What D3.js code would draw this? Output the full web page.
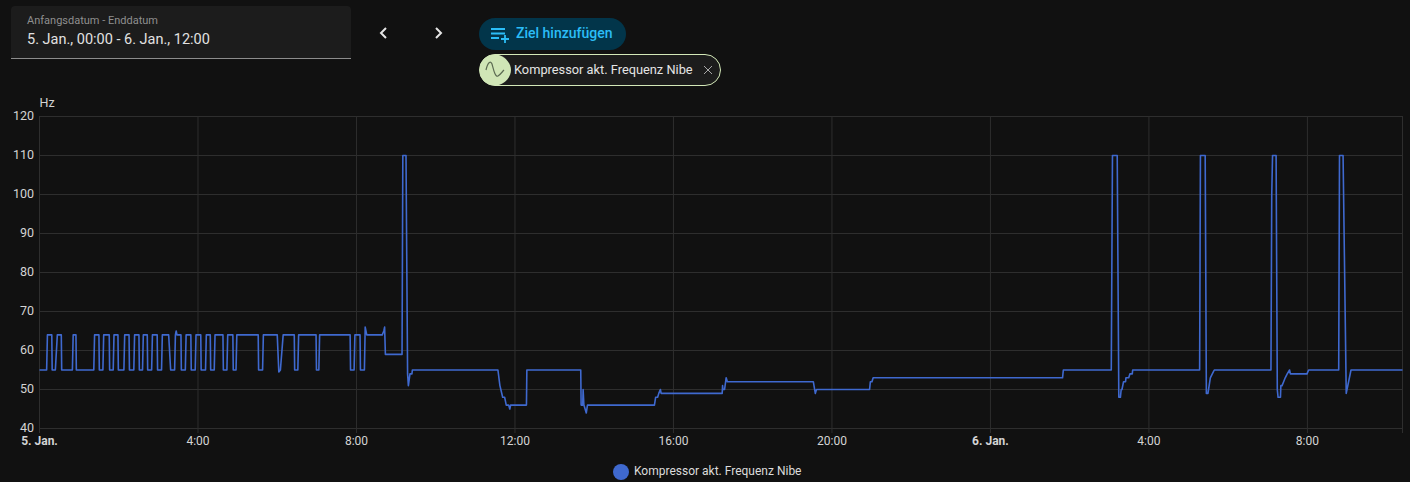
<!DOCTYPE html>
<html lang="de">
<head>
<meta charset="utf-8">
<script src="https://cdn.jsdelivr.net/npm/d3@7"></script>
<style>
html,body{margin:0;padding:0;background:#111111;}
svg{display:block;font-family:Roboto,sans-serif;}
</style>
</head>
<body>
<svg id="c" width="1410" height="482"></svg>
<script>
// Readings: [hours since 5 Jan 00:00, Hz]
const cyclingPhase = [
[0,55],[0.18,55],[0.20,64],[0.31,64],[0.32,55],[0.40,55],[0.45,64],[0.55,64],[0.56,55],
[0.83,55],[0.85,64],[0.92,64],[0.93,55],[1.37,55],[1.39,64],[1.50,64],[1.51,55],
[1.60,55],[1.62,64],[1.76,64],[1.77,55],[1.86,55],[1.88,64],[1.98,64],[1.99,55],
[2.13,55],[2.15,64],[2.26,64],[2.27,55],[2.38,55],[2.40,64],[2.51,64],[2.52,55],
[2.60,55],[2.62,64],[2.72,64],[2.73,55],[2.83,55],[2.85,64],[2.97,64],[2.98,55],
[3.08,55],[3.10,64],[3.26,64],[3.31,55],[3.41,55],[3.43,64],[3.45,65],[3.47,64],[3.57,64],[3.58,55],
[3.68,55],[3.70,64],[3.82,64],[3.83,55],[3.93,55],[3.95,64],[4.07,64],[4.08,55],
[4.19,55],[4.21,64],[4.31,64],[4.32,55],[4.41,55],[4.43,64],[4.63,64],[4.64,55],
[4.73,55],[4.75,64],[4.88,64],[4.89,55],[4.96,55],[4.98,64],[5.52,64],[5.53,55],
[5.63,55],[5.65,64],[6.00,64],[6.04,54.5],[6.08,55],[6.15,64],[6.43,64],[6.44,55],
[6.52,55],[6.54,64],[6.98,64],[6.99,55],[7.05,55],[7.07,64],[7.84,64],[7.85,55],
[7.94,55],[7.96,64],[8.09,64],[8.10,55],[8.20,55],[8.22,66],[8.26,64],[8.65,64],[8.69,65],[8.71,66],[8.73,59]
];
const firstBurst = [
[9.15,59],[9.17,110],[9.25,110],[9.29,54],[9.31,51],[9.35,54],[9.40,54],[9.41,55]
];
const middayPhase = [
[11.57,55],[11.62,51],[11.69,48],[11.74,48],[11.78,46],[11.84,46],[11.87,45],[11.89,46],
[12.29,46],[12.30,55],[13.66,55],[13.67,46],[13.71,46],[13.72,50],[13.74,46],[13.80,44],[13.83,46],
[15.52,46],[15.55,48],[15.60,48],[15.63,49],[15.67,50],[15.69,49],
[17.23,49],[17.24,51],[17.25,50],[17.29,50],[17.33,53],[17.36,52],
[19.53,52],[19.58,49],[19.61,50],[20.95,50],[20.97,52],[21.01,52],[21.04,53],
[25.82,53],[25.84,55]
];
const lateBursts = [
[27.05,55],[27.08,110],[27.20,110],[27.24,48],[27.28,48],[27.30,50],[27.32,50],[27.36,52],
[27.41,52],[27.42,53],[27.49,53],[27.52,54],[27.58,54],[27.59,55],
[29.28,55],[29.30,110],[29.42,110],[29.45,49],[29.49,49],[29.55,53],[29.60,54],[29.65,55],
[31.08,55],[31.10,100],[31.12,110],[31.21,110],[31.24,50],[31.26,48],[31.32,48],[31.33,51],
[31.36,51],[31.40,52],[31.44,53],[31.49,54],[31.55,55],[31.57,54],[31.99,54],[32.03,55],
[32.79,55],[32.81,110],[32.90,110],[32.98,49],[33.10,55],[34.40,55]
];
const yTicks = [40,50,60,70,80,90,100,110,120];
const xTicks = [0,4,8,12,16,20,24,28,32];
const xTickLabels = ["5. Jan.","4:00","8:00","12:00","16:00","20:00","6. Jan.","4:00","8:00"];
const boldTicks = ["5. Jan.","6. Jan."];
const seriesName = "Kompressor akt. Frequenz Nibe";
const xMax = 34.4;

const readings = [...cyclingPhase, ...firstBurst, ...middayPhase, ...lateBursts];

const svg = d3.select("#c");
const x = d3.scaleLinear().domain([0,xMax]).range([39,1402]);
const y = d3.scaleLinear().domain([40,120]).range([428,116]);
const grid = "#2e2e2e", txt = "#d4d4d4", blue = "#3f69cf";

// Date range field
svg.append("path").attr("d","M11 59V10a4 4 0 0 1 4-4H347a4 4 0 0 1 4 4V59Z").attr("fill","#1c1c1c");
svg.append("rect").attr("x",11).attr("y",58).attr("width",340).attr("height",1).attr("fill","#8c8c8c");
svg.append("text").attr("x",27).attr("y",24).attr("font-size",11).attr("fill","#8f8f8f").text("Anfangsdatum - Enddatum");
svg.append("text").attr("x",27).attr("y",44).attr("font-size",14.5).attr("fill","#e1e1e1").text("5. Jan., 00:00 - 6. Jan., 12:00");

// Chevrons
svg.append("path").attr("d","M386 28l-5 5 5 5").attr("fill","none").attr("stroke","#e6e6e6").attr("stroke-width",2);
svg.append("path").attr("d","M436 28l5 5-5 5").attr("fill","none").attr("stroke","#e6e6e6").attr("stroke-width",2);

// Add target button
svg.append("rect").attr("x",479).attr("y",18).attr("width",147).attr("height",32).attr("rx",16).attr("fill","#02354a");
svg.append("path").attr("d","M491 29h14M491 33.5h14M491 38h8M505 35v8M501 39h8").attr("fill","none").attr("stroke","#2bbdf7").attr("stroke-width",1.8);
svg.append("text").attr("x",516).attr("y",38).attr("font-size",14).attr("font-weight",500).attr("fill","#2bbdf7").text("Ziel hinzufügen");

// Chip
svg.append("rect").attr("x",479.5).attr("y",54.5).attr("width",241).attr("height",31).attr("rx",15.5).attr("fill","#1c1c1c").attr("stroke","#d3e8b8");
svg.append("path").attr("d","M495 54.5C486 54.5 479.5 61 479.5 70S486 85.5 495 85.5C503 85.5 511 78 511 70S503 54.5 495 54.5Z").attr("fill","#d0e6b6");
svg.append("path").attr("d","M486 70c2-9 5-9 6-6s3 14 6 12 4-4 6-6").attr("fill","none").attr("stroke","#5c6b52").attr("stroke-width",1.2);
svg.append("text").attr("x",514).attr("y",74).attr("font-size",12.8).attr("fill","#e4e4e4").text(seriesName);
svg.append("path").attr("d","M704 66l8 8M712 66l-8 8").attr("stroke","#a8a8a8").attr("stroke-width",1);

// Axes
svg.append("text").attr("x",39.5).attr("y",107).attr("font-size",12.5).attr("fill",txt).text("Hz");

const gy = svg.append("g").attr("transform","translate(39,0)")
  .call(d3.axisLeft(y).tickValues(yTicks).tickSize(-1363).tickPadding(5));
gy.select(".domain").remove();
gy.selectAll("line").attr("stroke",grid);
gy.selectAll("text").attr("font-size",12.5).attr("font-family","Roboto,sans-serif").attr("fill",txt).attr("dy","0.24em");

const gx = svg.append("g").attr("transform","translate(0,433)")
  .call(d3.axisBottom(x).tickValues(xTicks).tickFormat((d,i)=>xTickLabels[i]).tickSizeInner(-317).tickSizeOuter(0).tickPadding(3));
gx.select(".domain").remove();
gx.selectAll("line").attr("stroke",grid);
gx.selectAll("text").attr("font-size",12).attr("font-family","Roboto,sans-serif").attr("fill",txt)
  .attr("font-weight",d=>boldTicks.includes(xTickLabels[xTicks.indexOf(d)])?700:400);
svg.append("line").attr("x1",x(xMax)+0.5).attr("x2",x(xMax)+0.5).attr("y1",116).attr("y2",433).attr("stroke",grid);

// Series
const line = d3.line().x(d=>x(d[0])+0.5).y(d=>y(d[1])+0.5);
svg.append("path").datum(readings).attr("d",line).attr("fill","none").attr("stroke",blue).attr("stroke-width",1.6).attr("stroke-linejoin","round");

// Legend
svg.append("circle").attr("cx",621).attr("cy",472).attr("r",8).attr("fill",blue);
svg.append("text").attr("x",634).attr("y",475).attr("font-size",12).attr("fill","#dcdcdc").text(seriesName);
</script>
</body>
</html>
